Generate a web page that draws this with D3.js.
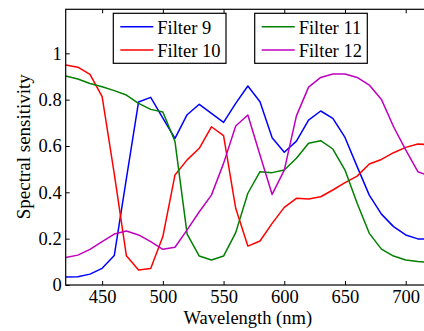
<!DOCTYPE html>
<html>
<head>
<meta charset="utf-8">
<script src="https://cdn.jsdelivr.net/npm/d3@7"></script>
<style>
body { margin: 0; background: #fff; overflow: hidden; }
svg { display: block; }
</style>
</head>
<body>
<svg id="chart" width="424" height="331" font-family="'Liberation Serif', 'DejaVu Serif', serif"></svg>
<script>
// wavelengths (nm)
const wavelengths = [420, 430, 440, 450, 460, 470, 480, 490, 500, 510, 520, 530, 540, 550, 560, 570,
	580, 590, 600, 610, 620, 630, 640, 650, 660, 670, 680, 690, 700, 710, 720];

const filter9 = [0.035, 0.036, 0.047, 0.072, 0.127, 0.46, 0.79, 0.81, 0.72, 0.633, 0.735, 0.78, 0.741, 0.702,
	0.784, 0.859, 0.791, 0.636, 0.573, 0.621, 0.712, 0.751, 0.719, 0.637, 0.511, 0.388, 0.306, 0.252, 0.216, 0.199, 0.198];
const filter10 = [0.95, 0.94, 0.909, 0.813, 0.48, 0.126, 0.065, 0.071, 0.209, 0.475, 0.54, 0.59, 0.683, 0.645,
	0.331, 0.168, 0.19, 0.266, 0.335, 0.374, 0.371, 0.381, 0.41, 0.442, 0.47, 0.522, 0.542, 0.571, 0.594, 0.609, 0.605];
const filter11 = [0.902, 0.889, 0.87, 0.856, 0.839, 0.82, 0.784, 0.758, 0.747, 0.619, 0.22, 0.125, 0.108, 0.125,
	0.226, 0.396, 0.489, 0.485, 0.496, 0.547, 0.612, 0.623, 0.587, 0.496, 0.353, 0.223, 0.155, 0.125, 0.108, 0.101, 0.098];
const filter12 = [0.119, 0.129, 0.154, 0.187, 0.22, 0.233, 0.216, 0.187, 0.154, 0.163, 0.238, 0.316, 0.388, 0.525,
	0.686, 0.734, 0.561, 0.391, 0.496, 0.73, 0.854, 0.896, 0.911, 0.911, 0.896, 0.863, 0.801, 0.683, 0.583, 0.489, 0.47];

const seriesNames = ["Filter 9", "Filter 10", "Filter 11", "Filter 12"];
const seriesColors = ["#0000ff", "#ff0000", "#008000", "#bf00bf"];
const xTicks = [450, 500, 550, 600, 650, 700];
const yTicks = [0, 0.2, 0.4, 0.6, 0.8, 1];

const allSeries = [filter9, filter10, filter11, filter12];

const serifFont = "'Liberation Serif', 'DejaVu Serif', serif";
const svg = d3.select("#chart");
const plotLeft = 65.7, plotTop = 9.3, plotRight = 430, plotBottom = 285;

const x = d3.scaleLinear().domain([420, 720]).range([plotLeft, plotRight]);
const y = d3.scaleLinear().domain([0, 1.19]).range([plotBottom, plotTop]);

svg.append("clipPath").attr("id", "plotClip")
	.append("rect")
	.attr("x", plotLeft).attr("y", plotTop)
	.attr("width", plotRight - plotLeft).attr("height", plotBottom - plotTop);

//Curves
const line = d3.line()
	.x((d, i) => x(wavelengths[i]))
	.y(d => y(d));

svg.append("g")
	.attr("clip-path", "url(#plotClip)")
	.selectAll("path")
	.data(allSeries)
	.enter()
	.append("path")
	.attr("d", d => line(d))
	.style("fill", "none")
	.style("stroke", (d, i) => seriesColors[i])
	.style("stroke-width", 1.5)
	.style("stroke-linejoin", "round");

//Axes (ticks pointing inward)
const fontSize = 18.5;
svg.append("g")
	.attr("transform", `translate(0,${plotBottom})`)
	.call(d3.axisBottom(x).tickValues(xTicks).tickSizeInner(-4).tickSizeOuter(0).tickPadding(5));
svg.append("g")
	.attr("transform", `translate(0,${plotTop})`)
	.call(d3.axisTop(x).tickValues(xTicks).tickSizeInner(-4).tickSizeOuter(0).tickFormat(""));
svg.append("g")
	.attr("transform", `translate(${plotLeft},0)`)
	.call(d3.axisLeft(y).tickValues(yTicks).tickSizeInner(-4).tickSizeOuter(0).tickPadding(4)
		.tickFormat(d => d === 0 ? "0" : (d === 1 ? "1" : d3.format(".1f")(d))));
svg.append("g")
	.attr("transform", `translate(${plotRight},0)`)
	.call(d3.axisRight(y).tickValues(yTicks).tickSizeInner(-4).tickSizeOuter(0).tickFormat(""));

svg.selectAll(".domain").remove();
// d3 axis sets its own font attrs on the group, override them
svg.selectAll("g").attr("font-family", serifFont).attr("font-size", fontSize);
svg.selectAll(".tick line").style("stroke", "#000").style("stroke-width", 1);
svg.selectAll(".tick text").style("fill", "#000");

//Frame
svg.append("rect")
	.attr("x", plotLeft).attr("y", plotTop)
	.attr("width", plotRight - plotLeft).attr("height", plotBottom - plotTop)
	.style("fill", "none")
	.style("stroke", "#000")
	.style("stroke-width", 1.2);

//Axis labels
svg.append("text")
	.attr("x", (plotLeft + plotRight) / 2)
	.attr("y", 324)
	.attr("text-anchor", "middle")
	.attr("font-family", serifFont)
	.attr("font-size", fontSize)
	.text("Wavelength (nm)");

svg.append("text")
	.attr("transform", `translate(29.5,146.7) rotate(-90)`)
	.attr("text-anchor", "middle")
	.attr("font-family", serifFont)
	.attr("font-size", 19)
	.text("Spectral sensitivity");

//Legends (two boxes, two entries each)
const legendBoxes = [
	{x: 113.3, w: 112.7, items: [0, 1]},
	{x: 254.7, w: 112.6, items: [2, 3]}
];
legendBoxes.forEach(box => {
	const g = svg.append("g");
	g.append("rect")
		.attr("x", box.x).attr("y", 13.3)
		.attr("width", box.w).attr("height", 50)
		.style("fill", "#fff")
		.style("stroke", "#000")
		.style("stroke-width", 1.2);
	box.items.forEach((k, j) => {
		const ly = 26.7 + j * 23.3;
		g.append("line")
			.attr("x1", box.x + 7).attr("x2", box.x + 40)
			.attr("y1", ly).attr("y2", ly)
			.style("stroke", seriesColors[k])
			.style("stroke-width", 1.5);
		g.append("text")
			.attr("x", box.x + 44)
			.attr("y", ly + 7.3)
			.attr("font-family", serifFont)
			.attr("font-size", fontSize)
			.text(seriesNames[k]);
	});
});
</script>
</body>
</html>
